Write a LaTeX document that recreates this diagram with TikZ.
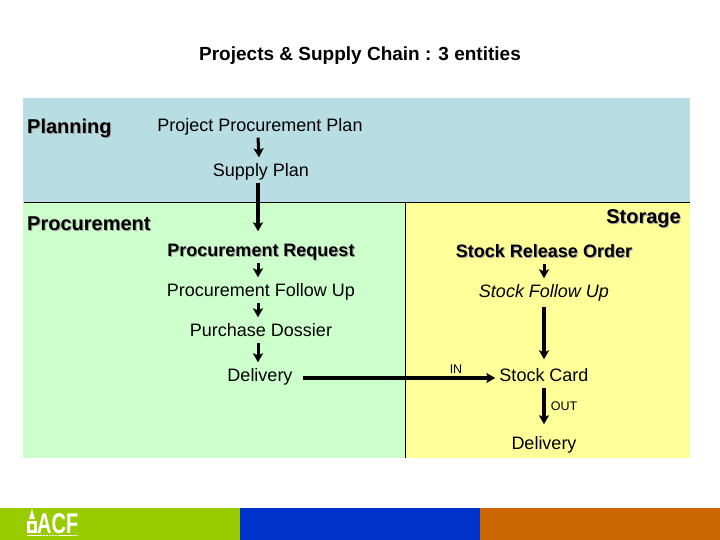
\documentclass[tikz,border=0pt]{standalone}
\usepackage{fontspec}
\setmainfont{Liberation Sans}
\usetikzlibrary{arrows.meta, positioning, calc}
\definecolor{planBlue}{RGB}{184, 221, 226}
\definecolor{procGreen}{RGB}{204, 255, 204}
\definecolor{storeYellow}{RGB}{255, 255, 153}
\definecolor{barGreen}{RGB}{153, 204, 0}
\definecolor{barBlue}{RGB}{0, 51, 204}
\definecolor{barOrange}{RGB}{204, 102, 0}
\newcommand{\shadowed}[1]{\makebox[0pt][l]{\kern1pt\raisebox{-1pt}{\textcolor{black!35}{#1}}}#1}

\begin{document}
\begin{tikzpicture}[
    x=1pt, y=-1pt,
    entry/.style={inner sep=4pt, text height=15pt, text depth=2pt, font=\fontsize{18}{20}\selectfont},
    entrybold/.style={entry, font=\fontsize{18}{20}\selectfont\bfseries},
    heading/.style={entry, inner sep=0pt, font=\fontsize{20}{22}\selectfont\bfseries},
    tiny_label/.style={inner sep=0pt, font=\fontsize{12.5}{14}\selectfont},
    flow/.style={-{Stealth[length=9pt, width=10pt, inset=2pt]}, line width=3.5pt, black},
    flow_thin/.style={flow, line width=3pt},
    flow_wide/.style={flow, line width=4.5pt}
]
    \useasboundingbox (0, 0) rectangle (720, 540);
    \fill[white] (0, 0) rectangle (720, 540);

    % Swimlane backgrounds
    \fill[planBlue] (23, 98) rectangle (690, 202);
    \fill[procGreen] (23, 202) rectangle (405, 458);
    \fill[storeYellow] (405, 202) rectangle (690, 458);
    \draw[line width=1pt] (24, 202.5) -- (690, 202.5);
    \draw[line width=1pt] (405, 202.5) -- (405, 458);

    % Footer bar
    \fill[barGreen] (0, 508) rectangle (240, 540);
    \fill[barBlue] (240, 508) rectangle (480, 540);
    \fill[barOrange] (480, 508) rectangle (720, 540);

    % Logo
    \node[inner sep=0pt, anchor=west, text=white, font=\bfseries] (logo) at (37, 524) {\scalebox{1.05}[1.5]{\fontsize{19}{19}\selectfont ACF}};
    \fill[white] (27, 521) rectangle (37, 533);
    \fill[barGreen] (30, 524) rectangle (34, 530);
    \fill[white] (29, 519) -- (32, 509) -- (35, 519) -- cycle;
    \draw[white, line width=1.5pt, dash pattern=on 2.5pt off 0.6pt] (27, 535.5) -- (77, 535.5);

    % Title and lane headings
    \node[entrybold, font=\fontsize{19}{21}\selectfont\bfseries] (title) at (360, 54) {Projects \& Supply Chain : 3 entities};
    \node[heading, anchor=west] (planning) at (27, 127) {\shadowed{Planning}};
    \node[heading, anchor=west] (procurement) at (27, 224) {\shadowed{Procurement}};
    \node[heading, anchor=east] (storage) at (681, 217) {\shadowed{Storage}};

    % Planning and procurement chain
    \node[entry] (ppp) at (260, 125) {Project Procurement Plan};
    \node[entry] (splan) at (261, 170) {Supply Plan};
    \node[entrybold] (request) at (261, 250) {\shadowed{Procurement Request}};
    \node[entry] (followup) at (261, 290) {Procurement Follow Up};
    \node[entry] (dossier) at (261, 330) {Purchase Dossier};
    \node[entry] (delivery) at (260, 375) {Delivery};

    % Storage chain
    \node[entrybold] (release) at (544, 251) {\shadowed{Stock Release Order}};
    \node[entry, font=\fontsize{18}{20}\selectfont\itshape] (stockup) at (544, 291) {Stock Follow Up};
    \node[entry] (card) at (544, 375) {Stock Card};
    \node[entry] (out) at (544, 443) {Delivery};
    \node[tiny_label] (inlabel) at (456, 369) {IN};
    \node[tiny_label] (outlabel) at (564, 406) {OUT};

    % Connections
    \draw[flow_thin] ([xshift=-2pt]ppp.south) -- ([xshift=-2pt]splan.north);
    \draw[flow, shorten >=6pt] ([xshift=-3pt]splan.south) -- ([xshift=-3pt]request.north);
    \draw[flow_thin] ([xshift=-3pt]request.south) -- ([xshift=-3pt]followup.north);
    \draw[flow_thin] ([xshift=-3pt]followup.south) -- ([xshift=-3pt]dossier.north);
    \draw[flow_thin] ([xshift=-3pt]dossier.south) -- ([xshift=-2pt]delivery.north);

    \draw[flow_thin] (release.south) -- (stockup.north);
    \draw[flow, shorten <=3pt, shorten >=3pt] (stockup.south) -- (card.north);
    \draw[flow, shorten >=6pt] (card.south) -- (out.north);
    \draw[flow_wide, shorten <=6pt] ([yshift=-3pt]delivery.east) -- ([yshift=-3pt]card.west);
\end{tikzpicture}
\end{document}
